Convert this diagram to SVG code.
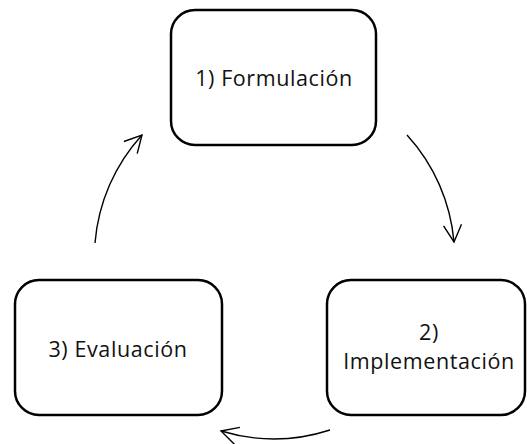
<svg xmlns="http://www.w3.org/2000/svg" width="527" height="444" viewBox="0 0 527 444">
<defs>
<style>
.box{fill:#fff;stroke:#000;stroke-width:2.5}
.lbl{font-family:"Open Sans","Liberation Sans",sans-serif;font-size:21.5px;letter-spacing:0.6px;fill:#111;text-anchor:middle}
.arc{fill:none;stroke:#000;stroke-width:1.4}
</style>
<marker id="v" markerUnits="userSpaceOnUse" markerWidth="24" markerHeight="24" viewBox="-20 -12 24 24" refX="0" refY="0" orient="auto">
<path d="M-17,-9 L0,0 L-17,9" fill="none" stroke="#000" stroke-width="1.4"/>
</marker>
</defs>
<rect width="527" height="444" fill="#fff"/>
<g id="connectors">
<path class="arc" d="M407,135 A182,182 0 0 1 454,242" marker-end="url(#v)"/>
<path class="arc" d="M330,430 A182,182 0 0 1 221,431" marker-end="url(#v)"/>
<path class="arc" d="M95,243 A182,182 0 0 1 142,135" marker-end="url(#v)"/>
</g>
<g id="n1">
<rect class="box" x="171" y="10" width="205" height="135" rx="24"/>
<text class="lbl" x="274" y="86">1) Formulación</text>
</g>
<g id="n2">
<rect class="box" x="327" y="280" width="198" height="135" rx="24"/>
<text class="lbl" x="429" y="340">2)</text>
<text class="lbl" x="429" y="369">Implementación</text>
</g>
<g id="n3">
<rect class="box" x="15" y="280" width="207" height="135" rx="24"/>
<text class="lbl" x="118" y="357">3) Evaluación</text>
</g>
</svg>
